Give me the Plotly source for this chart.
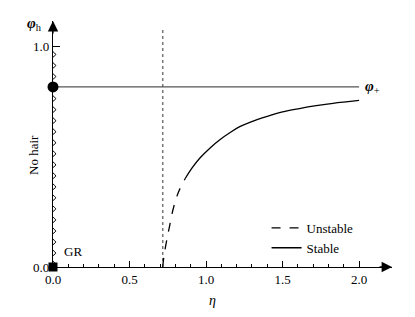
import numpy as np
import plotly.graph_objects as go

# ---- data ----
eta_unstable = [0.717, 0.725, 0.740, 0.760, 0.786, 0.820, 0.863]
phi_unstable = [0.000, 0.050, 0.110, 0.180, 0.265, 0.340, 0.400]
eta_stable = [0.863, 0.910, 0.960, 1.030, 1.090, 1.160, 1.220, 1.290, 1.400, 1.500,
              1.610, 1.720, 1.830, 2.000]
phi_stable = [0.400, 0.450, 0.494, 0.542, 0.577, 0.611, 0.636, 0.657, 0.683, 0.703,
              0.718, 0.731, 0.742, 0.755]
phi_plus = 0.816
eta_zero = 0.717
x_ticks = [0.0, 0.5, 1.0, 1.5, 2.0]
x_tick_labels = ["0.0", "0.5", "1.0", "1.5", "2.0"]
y_ticks = [0.0, 1.0]
y_tick_labels = ["0.0", "1.0"]

FONT = "Liberation Serif"
XMAX, YMAX = 2.215, 1.115
OFF = 8  # page body margin
L, R, T, B = 53 - OFF, 23, 21 - OFF, 50
W, H = 415 - OFF, 317 - OFF
PW, PH = W - L - R, H - T - B


def px(xp):
    return (xp - OFF - L) / PW


def py(yp):
    return (H - B - (yp - OFF)) / PH


fig = go.Figure()

# wavy "no hair" branch along eta = 0 (decoration)
yy = np.linspace(0, 1.0, 600)
xx = 0.018 * np.sin(2 * np.pi * yy / 0.05)
fig.add_trace(go.Scatter(x=xx, y=yy, mode="lines", line=dict(color="black", width=1),
                         showlegend=False, hoverinfo="skip", cliponaxis=False))

# dotted vertical line at eta_zero
fig.add_trace(go.Scatter(x=[eta_zero, eta_zero], y=[0, 1.076], mode="lines",
                         line=dict(color="#777", width=1.5, dash="dot"),
                         showlegend=False, hoverinfo="skip"))

# horizontal phi_+ line
fig.add_trace(go.Scatter(x=[0, 2.0], y=[phi_plus, phi_plus], mode="lines",
                         line=dict(color="#555", width=1.3),
                         showlegend=False, hoverinfo="skip"))

fig.add_trace(go.Scatter(x=eta_unstable, y=phi_unstable, mode="lines", name="Unstable",
                         line=dict(color="black", width=1.3, dash="dash", shape="spline")))
fig.add_trace(go.Scatter(x=eta_stable, y=phi_stable, mode="lines", name="Stable",
                         line=dict(color="black", width=1.3, shape="spline")))

# markers
fig.add_trace(go.Scatter(x=[0], y=[phi_plus], mode="markers",
                         marker=dict(symbol="circle", size=11, color="black"),
                         showlegend=False, cliponaxis=False))
fig.add_trace(go.Scatter(x=[0], y=[0], mode="markers",
                         marker=dict(symbol="square", size=9, color="black"),
                         showlegend=False, cliponaxis=False))

# axis arrows
fig.add_annotation(x=XMAX, y=0, xref="x", yref="y", ax=-14, ay=0, axref="pixel", ayref="pixel",
                   showarrow=True, arrowhead=2, arrowsize=1.6, arrowwidth=1.3, arrowcolor="black", text="")
fig.add_annotation(x=0, y=YMAX, xref="x", yref="y", ax=0, ay=14, axref="pixel", ayref="pixel",
                   showarrow=True, arrowhead=2, arrowsize=1.6, arrowwidth=1.3, arrowcolor="black", text="")

# labels
fig.add_annotation(x=2.0, y=phi_plus, xref="x", yref="y", xanchor="left", xshift=4, yanchor="middle",
                   text="<b><i>φ</i></b><sub>+</sub>", showarrow=False,
                   font=dict(family=FONT, size=15, color="black"))
fig.add_annotation(x=0, y=0, xref="x", yref="y", xanchor="left", yanchor="bottom", xshift=9, yshift=6,
                   text="GR", showarrow=False, font=dict(family=FONT, size=13, color="black"))
fig.add_annotation(x=px(34), y=py(24), xref="paper", yref="paper", xanchor="center", yanchor="middle",
                   text="<b><i>φ</i></b><sub>h</sub>",
                   showarrow=False, font=dict(family=FONT, size=15, color="black"))
fig.add_annotation(x=px(33), y=py(155), xref="paper", yref="paper", xanchor="center", yanchor="middle",
                   text="No hair", textangle=-90,
                   showarrow=False, font=dict(family=FONT, size=13, color="black"))
fig.add_annotation(x=px(212), y=py(300), xref="paper", yref="paper", xanchor="center", yanchor="middle",
                   text="<i>η</i>",
                   showarrow=False, font=dict(family=FONT, size=14, color="black"))

fig.update_layout(
    width=W, height=H,
    margin=dict(l=L, r=R, t=T, b=B),
    paper_bgcolor="white", plot_bgcolor="white",
    font=dict(family=FONT, size=13, color="black"),
    showlegend=True,
    legend=dict(x=0.63, y=0.22, xanchor="left", yanchor="top", bgcolor="rgba(0,0,0,0)",
                font=dict(family=FONT, size=13, color="black"), tracegroupgap=0),
    xaxis=dict(range=[0, XMAX], showline=True, linecolor="black", linewidth=1.2,
               showgrid=False, zeroline=False, ticks="inside", ticklen=6, tickcolor="black",
               tickvals=x_ticks, ticktext=x_tick_labels,
               minor=dict(tickvals=[0.1, 0.2, 0.3, 0.4, 0.6, 0.7, 0.8, 0.9, 1.1, 1.2, 1.3, 1.4,
                                    1.6, 1.7, 1.8, 1.9], ticks="inside", ticklen=3,
                          tickcolor="black", showgrid=False),
               tickfont=dict(family=FONT, size=13, color="black")),
    yaxis=dict(range=[0, YMAX], showline=True, linecolor="black", linewidth=1.2,
               showgrid=False, zeroline=False, ticks="inside", ticklen=7, tickcolor="black",
               tickvals=y_ticks, ticktext=y_tick_labels,
               tickfont=dict(family=FONT, size=13, color="black")),
)

fig.write_html("out.html")
